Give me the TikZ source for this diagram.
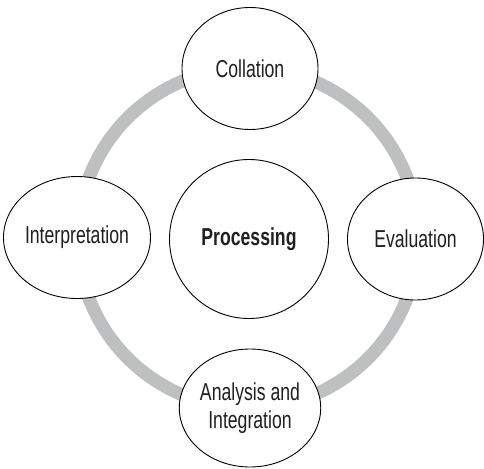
\documentclass[tikz,border=0pt]{standalone}
\usepackage{fontspec}
\setmainfont[FakeStretch=0.72]{Liberation Sans}
\usetikzlibrary{shapes.geometric}
\definecolor{ringgray}{HTML}{BEBFC1}
\definecolor{txt}{HTML}{231F20}
\begin{document}
\begin{tikzpicture}[x=1pt,y=-1pt,
  stage/.style={ellipse,draw=black,line width=0.9pt,fill=white,inner sep=0pt,
    minimum width=136pt,minimum height=122pt,align=center,text=txt,
    font=\fontsize{24.5}{27.5}\selectfont},
  hub/.style={circle,draw=black,line width=0.9pt,fill=white,inner sep=0pt,
    minimum size=159pt,text=txt,font=\fontsize{24.5}{27.5}\selectfont\bfseries}]
\useasboundingbox (0,0) rectangle (484,468);
\coordinate (c) at (248,238);
\draw[ringgray,line width=13pt] (c) circle[radius=170];
\node[hub] (proc) at (249,239) {Processing};
\node[stage] (col) at (250,68.5) {Collation};
\node[stage] (int) at (77,237.5) {Interpretation};
\node[stage] (eva) at (415.5,239) {Evaluation};
\node[stage,minimum height=118pt] (ana) at (250,408) {Analysis and\\Integration};
\end{tikzpicture}
\end{document}
